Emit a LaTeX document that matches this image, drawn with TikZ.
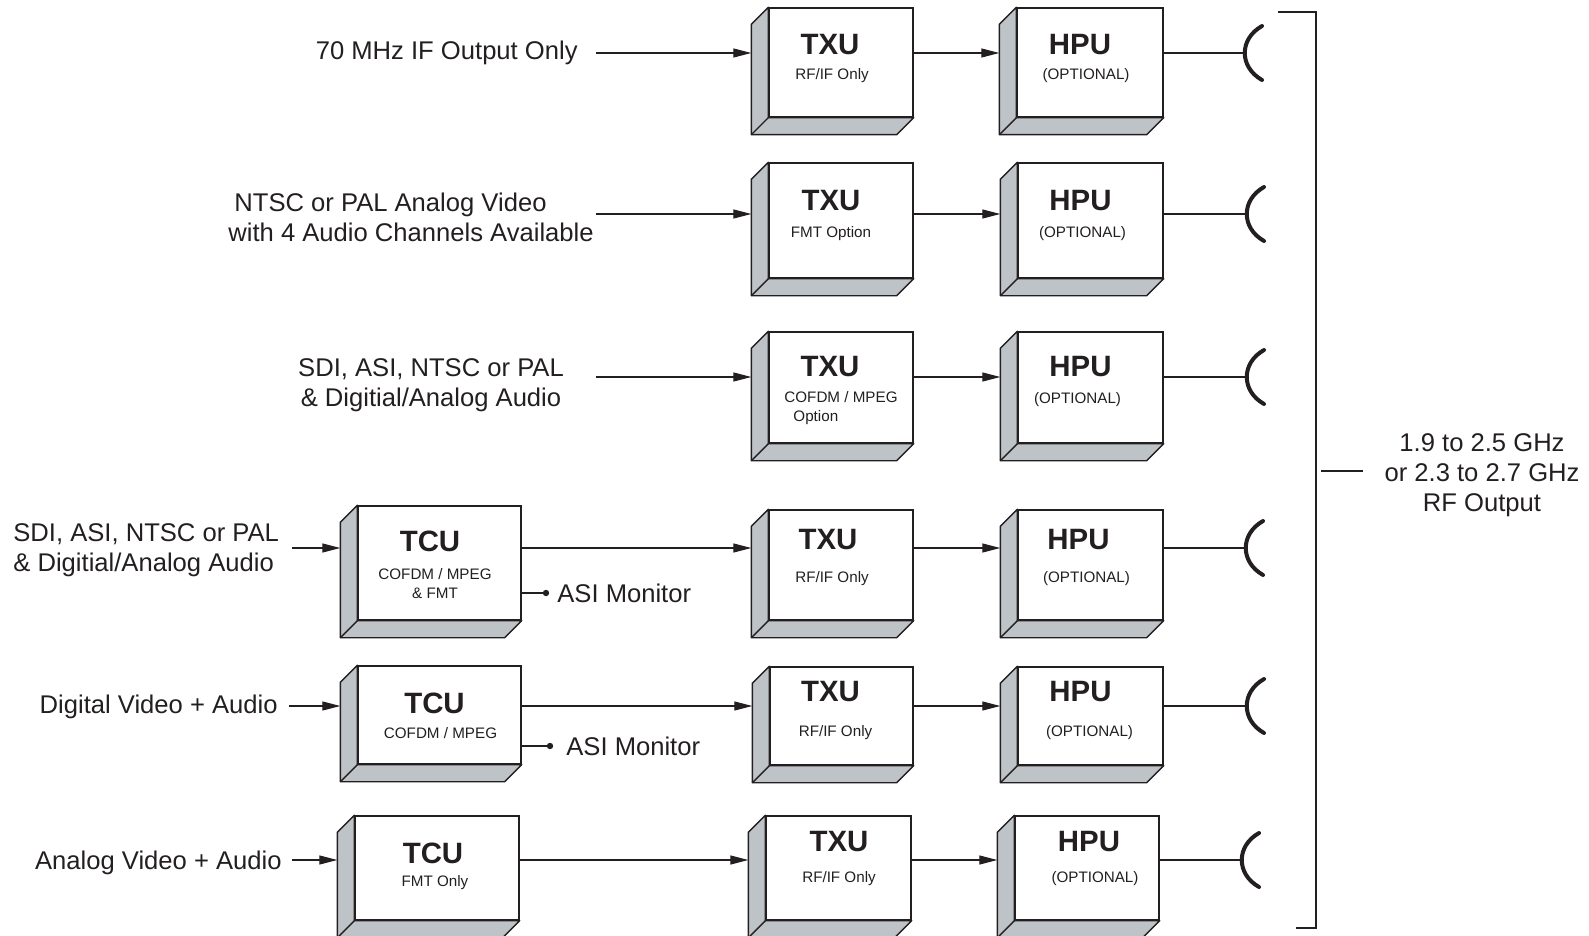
\documentclass[tikz,border=0pt]{standalone}
\usepackage{fontspec}
\setmainfont{Liberation Sans}
\usetikzlibrary{calc,arrows.meta}

\definecolor{slabgray}{RGB}{190,195,200}
\definecolor{ink}{RGB}{35,31,32}

\tikzset{
  face/.style 2 args={draw=ink, line width=0.7pt, fill=white, inner sep=0pt,
    minimum width=#1*0.5pt, minimum height=#2*0.5pt},
  slab/.style={draw=ink, line width=0.7pt, fill=slabgray, line join=round},
  title/.style={font=\fontsize{14.7}{16}\selectfont\bfseries, text=ink, inner sep=0pt},
  sub/.style={font=\fontsize{7.6}{9.5}\selectfont, text=ink, inner sep=0pt, align=center},
  lbl/.style={font=\fontsize{12.8}{15}\selectfont, text=ink, inner sep=0pt},
  feed/.style={draw=ink, line width=0.6pt, -{Triangle[length=9pt,width=4.5pt]}},
  wire/.style={draw=ink, line width=0.6pt},
  dish/.style={draw=ink, line width=2pt, line cap=round},
  rail/.style={draw=ink, line width=1pt},
}

% gray side and bottom of a unit
\newcommand{\unitslab}[1]{%
  \draw[slab] (#1.north west) -- ++(-17,17) -- ($(#1.south west)+(-17,17)$)
    -- ($(#1.south east)+(-17,17)$) -- (#1.south east) -- (#1.south west) -- cycle;
  \draw[slab] (#1.south west) -- ++(-17,17);
}
% antenna arc
\newcommand{\dishat}[1]{%
  \draw[dish] ($(#1)+(18,-27)$) .. controls ($(#1)+(-5,-14)$) and ($(#1)+(-5,14)$) .. ($(#1)+(18,27)$);
}

\begin{document}
\begin{tikzpicture}[x=0.5pt, y=-0.5pt]
\clip (0,0) rectangle (1589,936);

% units
\node[face={144}{109}] (txuA) at (841,62.5) {};   \unitslab{txuA}
\node[face={146}{109}] (hpuA) at (1090,62.5) {};  \unitslab{hpuA}
\node[face={144}{115}] (txuB) at (841,220.5) {};  \unitslab{txuB}
\node[face={145}{115}] (hpuB) at (1090.5,220.5) {}; \unitslab{hpuB}
\node[face={144}{111}] (txuC) at (841,387.5) {};  \unitslab{txuC}
\node[face={145}{111}] (hpuC) at (1090.5,387.5) {}; \unitslab{hpuC}
\node[face={163}{114}] (tcuD) at (439.5,563) {};  \unitslab{tcuD}
\node[face={144}{110}] (txuD) at (841,565) {};    \unitslab{txuD}
\node[face={145}{110}] (hpuD) at (1090.5,565) {}; \unitslab{hpuD}
\node[face={163}{98}] (tcuE) at (439.5,715) {};   \unitslab{tcuE}
\node[face={143}{98}] (txuE) at (841.5,716) {};   \unitslab{txuE}
\node[face={145}{98}] (hpuE) at (1090.5,716) {};  \unitslab{hpuE}
\node[face={164}{104}] (tcuF) at (437,868) {};    \unitslab{tcuF}
\node[face={145}{104}] (txuF) at (838.5,868) {};  \unitslab{txuF}
\node[face={144}{104}] (hpuF) at (1087,868) {};   \unitslab{hpuF}

% unit texts
\node[title] (txuAt) at ($(txuA.north)+(-11,37)$) {TXU};
\node[sub] (txuAs) at ($(txuA.north)+(-9,68)$) {RF/IF Only};
\node[title] (hpuAt) at ($(hpuA.north)+(-10,37)$) {HPU};
\node[sub] (hpuAs) at ($(hpuA.north)+(-4,68)$) {(OPTIONAL)};
\node[title] (txuBt) at ($(txuB.north)+(-10,38)$) {TXU};
\node[sub] (txuBs) at ($(txuB.north)+(-10,71)$) {FMT Option};
\node[title] (hpuBt) at ($(hpuB.north)+(-10,38)$) {HPU};
\node[sub] (hpuBs) at ($(hpuB.north)+(-8,71)$) {(OPTIONAL)};
\node[title] (txuCt) at ($(txuC.north)+(-11,35)$) {TXU};
\node[sub, align=left] (txuCs) at ($(txuC.north)+(0,77)$) {COFDM / MPEG\\\hspace*{4.5pt}Option};
\node[title] (hpuCt) at ($(hpuC.north)+(-10,35)$) {HPU};
\node[sub] (hpuCs) at ($(hpuC.north)+(-13,68)$) {(OPTIONAL)};
\node[title] (tcuDt) at ($(tcuD.north)+(-9.5,36)$) {TCU};
\node[sub] (tcuDs) at ($(tcuD.north)+(-4.5,78)$) {COFDM / MPEG\\\& FMT};
\node[title] (txuDt) at ($(txuD.north)+(-13,30)$) {TXU};
\node[sub] (txuDs) at ($(txuD.north)+(-9,69)$) {RF/IF Only};
\node[title] (hpuDt) at ($(hpuD.north)+(-12,30)$) {HPU};
\node[sub] (hpuDs) at ($(hpuD.north)+(-4,69)$) {(OPTIONAL)};
\node[title] (tcuEt) at ($(tcuE.north)+(-5,38)$) {TCU};
\node[sub] (tcuEs) at ($(tcuE.north)+(1,68)$) {COFDM / MPEG};
\node[title] (txuEt) at ($(txuE.north)+(-11,25)$) {TXU};
\node[sub] (txuEs) at ($(txuE.north)+(-6,66)$) {RF/IF Only};
\node[title] (hpuEt) at ($(hpuE.north)+(-10,25)$) {HPU};
\node[sub] (hpuEs) at ($(hpuE.north)+(-1,66)$) {(OPTIONAL)};
\node[title] (tcuFt) at ($(tcuF.north)+(-4,38)$) {TCU};
\node[sub] (tcuFs) at ($(tcuF.north)+(-2,67)$) {FMT Only};
\node[title] (txuFt) at ($(txuF.north)+(0.5,26)$) {TXU};
\node[sub] (txuFs) at ($(txuF.north)+(0.5,63)$) {RF/IF Only};
\node[title] (hpuFt) at ($(hpuF.north)+(2,26)$) {HPU};
\node[sub] (hpuFs) at ($(hpuF.north)+(8,63)$) {(OPTIONAL)};

% input labels
\node[lbl, anchor=east] (inA) at (578,53) {70 MHz IF Output Only};
\node[lbl, anchor=west, align=left] (inB) at (228,217) {\hspace*{3pt}NTSC or PAL Analog Video\\with 4 Audio Channels Available};
\node[lbl, align=center] (inC) at (431,385) {SDI, ASI, NTSC or PAL\\\& Digitial/Analog Audio};
\node[lbl, anchor=west, align=left] (inD) at (13,550) {SDI, ASI, NTSC or PAL\\\& Digitial/Analog Audio};
\node[lbl, anchor=east] (inE) at (278,707) {Digital Video + Audio};
\node[lbl, anchor=east] (inF) at (282,863) {Analog Video + Audio};

% row ends
\coordinate (srcA) at (596,53);  \coordinate (antA) at (1244,53);
\coordinate (srcB) at (596,214); \coordinate (antB) at (1246,214);
\coordinate (srcC) at (596,377); \coordinate (antC) at (1246,377);
\coordinate (srcD) at (292,548); \coordinate (antD) at (1245,548);
\coordinate (srcE) at (289,706); \coordinate (antE) at (1246,706);
\coordinate (srcF) at (292,860); \coordinate (antF) at (1241,860);

% signal paths
\draw[feed] (srcA) -- ($(txuA.west |- srcA)+(-17,0)$);
\draw[feed] (txuA.east |- srcA) -- ($(hpuA.west |- srcA)+(-17,0)$);
\draw[wire] (hpuA.east |- srcA) -- (antA);
\draw[feed] (srcB) -- ($(txuB.west |- srcB)+(-17,0)$);
\draw[feed] (txuB.east |- srcB) -- ($(hpuB.west |- srcB)+(-17,0)$);
\draw[wire] (hpuB.east |- srcB) -- (antB);
\draw[feed] (srcC) -- ($(txuC.west |- srcC)+(-17,0)$);
\draw[feed] (txuC.east |- srcC) -- ($(hpuC.west |- srcC)+(-17,0)$);
\draw[wire] (hpuC.east |- srcC) -- (antC);
\draw[feed] (srcD) -- ($(tcuD.west |- srcD)+(-17,0)$);
\draw[feed] (tcuD.east |- srcD) -- ($(txuD.west |- srcD)+(-17,0)$);
\draw[feed] (txuD.east |- srcD) -- ($(hpuD.west |- srcD)+(-17,0)$);
\draw[wire] (hpuD.east |- srcD) -- (antD);
\draw[feed] (srcE) -- ($(tcuE.west |- srcE)+(-17,0)$);
\draw[feed] (tcuE.east |- srcE) -- ($(txuE.west |- srcE)+(-17,0)$);
\draw[feed] (txuE.east |- srcE) -- ($(hpuE.west |- srcE)+(-17,0)$);
\draw[wire] (hpuE.east |- srcE) -- (antE);
\draw[feed] (srcF) -- ($(tcuF.west |- srcF)+(-17,0)$);
\draw[feed] (tcuF.east |- srcF) -- ($(txuF.west |- srcF)+(-17,0)$);
\draw[feed] (txuF.east |- srcF) -- ($(hpuF.west |- srcF)+(-17,0)$);
\draw[wire] (hpuF.east |- srcF) -- (antF);

% antennas
\dishat{antA} \dishat{antB} \dishat{antC}
\dishat{antD} \dishat{antE} \dishat{antF}

% ASI monitor taps
\coordinate (asiD) at (546,593);
\coordinate (asiE) at (550,746);
\draw[wire] (tcuD.east |- asiD) -- (asiD);
\fill[ink] (asiD) circle (1.6pt);
\node[lbl, anchor=west] (asiDt) at (557,593) {ASI Monitor};
\draw[wire] (tcuE.east |- asiE) -- (asiE);
\fill[ink] (asiE) circle (1.6pt);
\node[lbl, anchor=west] (asiEt) at (566,746) {ASI Monitor};

% output bracket
\node[lbl, align=center] (rfout) at (1482,475) {1.9 to 2.5 GHz\\or 2.3 to 2.7 GHz\\RF Output};
\draw[rail] (1278,12) -| (1316,928) -- (1296,928);
\coordinate (brk) at (1316,471);
\draw[wire] ($(brk)+(5,0)$) -- ($(rfout.west |- brk)+(-21,0)$);
\end{tikzpicture}
\end{document}
